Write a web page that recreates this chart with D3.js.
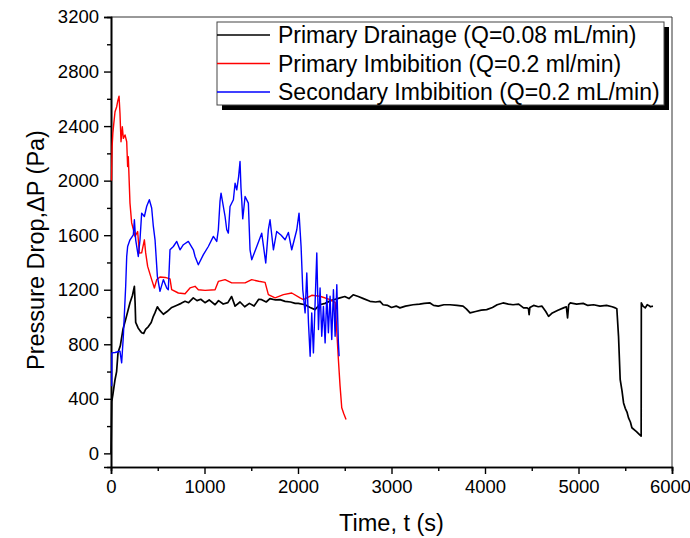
<!DOCTYPE html>
<html>
<head>
<meta charset="utf-8">
<script src="https://cdn.jsdelivr.net/npm/d3@7"></script>
<style>
  body { margin: 0; background: #fff; }
  text { font-family: "Liberation Sans", Arial, sans-serif; fill: #000; }
</style>
</head>
<body>
<svg id="chart"></svg>
<script>
const width  = 690
const height = 538

// Primary drainage (black)
const drainT = [0, 8, 20, 43, 60, 75, 100, 128, 160, 203, 230, 250, 258, 264, 290, 310, 328, 350, 370, 400, 430, 453, 470, 496, 520, 560, 600, 650, 700, 750, 792, 830, 880, 920, 960, 1005, 1050, 1113, 1150, 1200, 1250, 1290, 1327, 1380, 1430, 1480, 1530, 1580, 1612, 1660, 1700, 1760, 1808, 1862, 1920, 1970, 2003, 2075, 2130, 2182, 2230, 2290, 2350, 2400, 2449, 2500, 2545, 2590, 2645, 2700, 2770, 2830, 2877, 2910, 2960, 3000, 3050, 3090, 3150, 3230, 3300, 3350, 3412, 3450, 3500, 3560, 3625, 3700, 3765, 3800, 3840, 3900, 3960, 4018, 4080, 4130, 4193, 4250, 4300, 4360, 4412, 4447, 4465, 4472, 4480, 4520, 4570, 4608, 4650, 4680, 4720, 4780, 4840, 4870, 4883, 4895, 4911, 4980, 5050, 5100, 5161, 5230, 5300, 5360, 5393, 5410, 5428, 5446, 5465, 5482, 5500, 5520, 5535, 5555, 5571, 5620, 5650, 5670, 5672, 5690, 5714, 5735, 5750, 5770, 5796]
const drainP = [0, 380, 430, 540, 600, 740, 790, 910, 990, 1105, 1160, 1225, 1100, 960, 920, 900, 885, 880, 910, 930, 960, 1005, 1030, 1075, 1050, 1020, 1040, 1070, 1085, 1100, 1115, 1105, 1140, 1120, 1130, 1105, 1125, 1090, 1120, 1095, 1105, 1150, 1080, 1110, 1075, 1100, 1080, 1130, 1127, 1110, 1135, 1125, 1127, 1115, 1110, 1100, 1100, 1090, 1070, 1054, 1090, 1100, 1120, 1130, 1140, 1150, 1135, 1163, 1150, 1135, 1115, 1110, 1115, 1090, 1085, 1070, 1080, 1067, 1080, 1090, 1095, 1100, 1103, 1085, 1080, 1090, 1090, 1085, 1080, 1060, 1030, 1040, 1050, 1054, 1070, 1090, 1103, 1095, 1090, 1095, 1067, 1067, 1060, 1017, 1070, 1085, 1075, 1080, 1040, 1005, 1030, 1050, 1067, 1075, 993, 1090, 1103, 1095, 1100, 1085, 1090, 1080, 1085, 1075, 1067, 1060, 860, 540, 460, 370, 330, 300, 260, 230, 188, 160, 140, 127, 1103, 1080, 1067, 1090, 1085, 1075, 1080]

// Primary imbibition (red)
const imbT = [5, 12, 20, 30, 43, 60, 71, 86, 96, 107, 121, 132, 150, 168, 178, 185, 203, 221, 240, 257, 285, 303, 328, 357, 371, 392, 435, 464, 489, 524, 580, 631, 649, 720, 792, 845, 899, 934, 1006, 1113, 1148, 1220, 1291, 1434, 1505, 1580, 1648, 1683, 1755, 1844, 1933, 2022, 2058, 2147, 2236, 2343, 2397, 2432, 2450, 2468, 2490, 2514]
const imbP = [2000, 2250, 2350, 2420, 2505, 2540, 2580, 2620, 2495, 2285, 2395, 2310, 2335, 2285, 2103, 2176, 1835, 1690, 1640, 1590, 1627, 1469, 1470, 1566, 1470, 1371, 1274, 1213, 1274, 1293, 1290, 1279, 1200, 1176, 1171, 1213, 1225, 1200, 1195, 1200, 1261, 1274, 1250, 1250, 1274, 1262, 1254, 1164, 1140, 1164, 1176, 1140, 1127, 1159, 1152, 1127, 1108, 688, 493, 335, 290, 249]

// Secondary imbibition (blue)
const secT = [7, 9, 43, 96, 114, 132, 157, 168, 178, 203, 239, 250, 264, 292, 310, 328, 357, 381, 410, 435, 453, 471, 496, 524, 560, 596, 613, 631, 667, 703, 738, 774, 827, 881, 899, 934, 988, 1041, 1095, 1131, 1148, 1166, 1177, 1220, 1238, 1255, 1273, 1309, 1327, 1345, 1365, 1380, 1390, 1398, 1409, 1434, 1469, 1487, 1505, 1559, 1612, 1655, 1683, 1701, 1737, 1772, 1820, 1862, 1897, 1933, 1987, 2011, 2033, 2051, 2076, 2094, 2112, 2130, 2147, 2165, 2201, 2219, 2236, 2254, 2272, 2290, 2308, 2325, 2343, 2361, 2379, 2397, 2415, 2432, 2440]
const secP = [493, 737, 740, 749, 664, 859, 1225, 1444, 1517, 1566, 1603, 1713, 1566, 1444, 1566, 1762, 1737, 1810, 1860, 1799, 1664, 1566, 1298, 1188, 1274, 1213, 1200, 1493, 1517, 1554, 1493, 1530, 1554, 1493, 1444, 1383, 1457, 1517, 1591, 1554, 1640, 1850, 1908, 1737, 1640, 1615, 1810, 1860, 1981, 1932, 2030, 2140, 1950, 1860, 1720, 1884, 1835, 1493, 1420, 1517, 1615, 1396, 1640, 1713, 1493, 1627, 1600, 1566, 1620, 1493, 1640, 1762, 1517, 1200, 1030, 1323, 957, 712, 1030, 737, 1469, 908, 1213, 859, 1078, 810, 1164, 884, 1152, 835, 1200, 859, 1237, 810, 712]

const legendLabels = [
  "Primary Drainage (Q=0.08 mL/min)",
  "Primary Imbibition (Q=0.2 ml/min)",
  "Secondary Imbibition (Q=0.2 mL/min)"
]
const seriesColors = ["#000000", "#ff0000", "#0000ff"]

const xTicks = [0, 1000, 2000, 3000, 4000, 5000, 6000]
const yTicks = [0, 400, 800, 1200, 1600, 2000, 2400, 2800, 3200]

const plotLeft = 111, plotRight = 672, plotTop = 17, plotBottom = 467

let svg = d3.select("#chart")
            .attr("width", width)
            .attr("height", height)

const x = d3.scaleLinear().domain([0, 6000]).range([plotLeft, plotRight])
const y = d3.scaleLinear().domain([-100, 3200]).range([plotBottom, plotTop])

// frame (top / right)
svg.append("line").attr("x1", plotLeft).attr("x2", plotRight).attr("y1", plotTop).attr("y2", plotTop)
   .attr("stroke", "#333").attr("stroke-width", 1)
svg.append("line").attr("x1", plotRight).attr("x2", plotRight).attr("y1", plotTop).attr("y2", plotBottom)
   .attr("stroke", "#333").attr("stroke-width", 1)

// bottom axis, major + minor ticks
const xAxis = svg.append("g").attr("transform", `translate(0,${plotBottom})`)
xAxis.call(d3.axisBottom(x).tickValues(d3.range(500, 6000, 1000)).tickSize(4).tickFormat(""))
xAxis.append("g").call(d3.axisBottom(x).tickValues(xTicks).tickSize(7).tickPadding(6).tickFormat(d3.format("d")))
xAxis.selectAll("path").attr("stroke-width", 1.6)
xAxis.selectAll("line").attr("stroke-width", 1.4)
xAxis.selectAll("text").style("font-size", "18.5px").attr("fill", "#000")
// last label sits against the right edge of the window
xAxis.selectAll("text").filter(d => d === 6000).attr("dx", -2)

// left axis
const yAxis = svg.append("g").attr("transform", `translate(${plotLeft},0)`)
yAxis.call(d3.axisLeft(y).tickValues(d3.range(200, 3200, 400)).tickSize(4).tickFormat(""))
yAxis.append("g").call(d3.axisLeft(y).tickValues(yTicks).tickSize(7).tickPadding(5).tickFormat(d3.format("d")))
yAxis.selectAll("path").attr("stroke-width", 1.6)
yAxis.selectAll("line").attr("stroke-width", 1.4)
yAxis.selectAll("text").style("font-size", "18.5px").attr("fill", "#000")

// series
const series = [
  [drainT, drainP],
  [imbT, imbP],
  [secT, secP]
]
const line = d3.line().x(d => x(d[0])).y(d => y(d[1]))
series.forEach((s, i) => {
    const pts = s[0].map((t, k) => [t, s[1][k]])
    svg.append("path")
       .attr("d", line(pts))
       .attr("fill", "none")
       .attr("stroke", seriesColors[i])
       .attr("stroke-width", i === 0 ? 1.7 : 1.4)
       .attr("stroke-linejoin", "round")
})

// axis titles
svg.append("text")
   .attr("x", (plotLeft + plotRight) / 2).attr("y", 531)
   .attr("text-anchor", "middle")
   .style("font-size", "23.5px")
   .text("Time, t (s)")
svg.append("text")
   .attr("transform", `translate(44,250) rotate(-90)`)
   .attr("text-anchor", "middle")
   .style("font-size", "23.5px")
   .text("Pressure Drop,\u0394P (Pa)")

// legend
const lg = svg.append("g")
const lx = 217, ly = 22, lw = 447, lh = 83
lg.append("rect").attr("x", lx + 5).attr("y", ly + 5).attr("width", lw).attr("height", lh).attr("fill", "#000")
lg.append("rect").attr("x", lx).attr("y", ly).attr("width", lw).attr("height", lh)
  .attr("fill", "#fff").attr("stroke", "#444").attr("stroke-width", 1)
legendLabels.forEach((label, i) => {
    const cy = 35 + i * 28.5
    lg.append("line").attr("x1", lx).attr("x2", 270).attr("y1", cy).attr("y2", cy)
      .attr("stroke", seriesColors[i]).attr("stroke-width", 1.5)
    lg.append("text").attr("x", 278).attr("y", cy + 8)
      .style("font-size", "23px")
      .text(label)
})
</script>
</body>
</html>
